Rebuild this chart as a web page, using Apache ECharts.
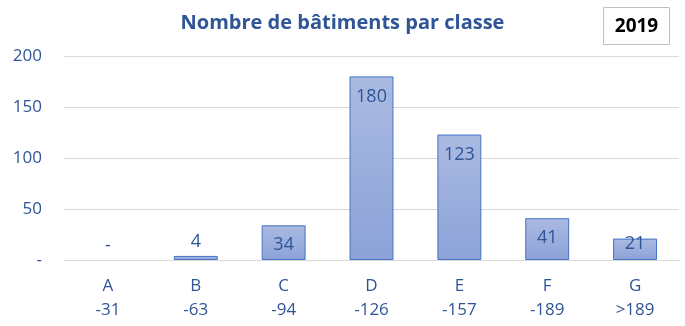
<!DOCTYPE html>
<html><head><meta charset="utf-8">
<script src="https://cdn.jsdelivr.net/npm/echarts@6/dist/echarts.min.js"></script>
<style>html,body{margin:0;padding:0;background:#fff}#c{width:685px;height:326px}</style>
</head><body><div id="c"></div>
<script>
const categories = ['A', 'B', 'C', 'D', 'E', 'F', 'G'];
const thresholds = ['-31', '-63', '-94', '-126', '-157', '-189', '>189'];
const values = [0, 4, 34, 180, 123, 41, 21];
const yTicks = [0, 50, 100, 150, 200];
const titleText = 'Nombre de bâtiments par classe';
const yearText = '2019';

const blue = '#2F5597';
const chart = echarts.init(document.getElementById('c'));
function labelFor(v) {
  if (v < 10) return {position: 'top', distance: 5};
  if (v < 25) return {position: 'insideTop', distance: 11, offset: [0, -15]};
  return {position: 'insideTop', distance: 11};
}
chart.setOption({
  animation: false,
  title: {
    text: titleText, left: 'center', top: 8,
    textStyle: {color: blue, fontSize: 20, fontWeight: 'bold', fontFamily: 'Open Sans'}
  },
  graphic: [{
    type: 'group', left: 603, top: 7,
    children: [
      {type: 'rect', shape: {x: 0, y: 0, width: 66, height: 37}, style: {fill: '#fff', stroke: '#BFBFBF', lineWidth: 1}},
      {type: 'text', style: {x: 33, y: 19, text: yearText, align: 'center', verticalAlign: 'middle', fill: '#000', font: 'bold 19px Open Sans'}}
    ]
  }],
  grid: {left: 64, right: 6, top: 56, bottom: 66},
  xAxis: {
    type: 'category',
    data: categories.map((c, i) => c + '\n' + thresholds[i]),
    axisLine: {lineStyle: {color: '#D9D9D9'}},
    axisTick: {show: false},
    axisLabel: {color: blue, fontSize: 17, fontFamily: 'Open Sans', lineHeight: 24, margin: 14}
  },
  yAxis: {
    type: 'value', min: 0, max: 200, interval: 50,
    splitLine: {lineStyle: {color: '#D9D9D9', width: 1}},
    axisLine: {show: false}, axisTick: {show: false},
    axisLabel: {color: blue, fontSize: 17, fontFamily: 'Open Sans', margin: 22,
      formatter: v => yTicks.includes(v) ? (v === 0 ? '-' : String(v)) : ''}
  },
  series: [{
    type: 'bar',
    barCategoryGap: '50%',
    data: values.map((v, i) => ({
      value: v,
      itemStyle: v === 0 ? {color: 'rgba(0,0,0,0)', borderColor: 'rgba(0,0,0,0)', borderWidth: 0} : undefined,
      label: labelFor(v)
    })),
    itemStyle: {
      color: new echarts.graphic.LinearGradient(0, 0, 0, 1, [
        {offset: 0, color: '#AABAE1'}, {offset: 1, color: '#8CA2D8'}
      ]),
      borderColor: '#4472C4', borderWidth: 1
    },
    label: {
      show: true, color: blue, fontSize: 18, fontFamily: 'Open Sans',
      formatter: p => p.value === 0 ? '-' : String(p.value)
    }
  }]
});
</script></body></html>
